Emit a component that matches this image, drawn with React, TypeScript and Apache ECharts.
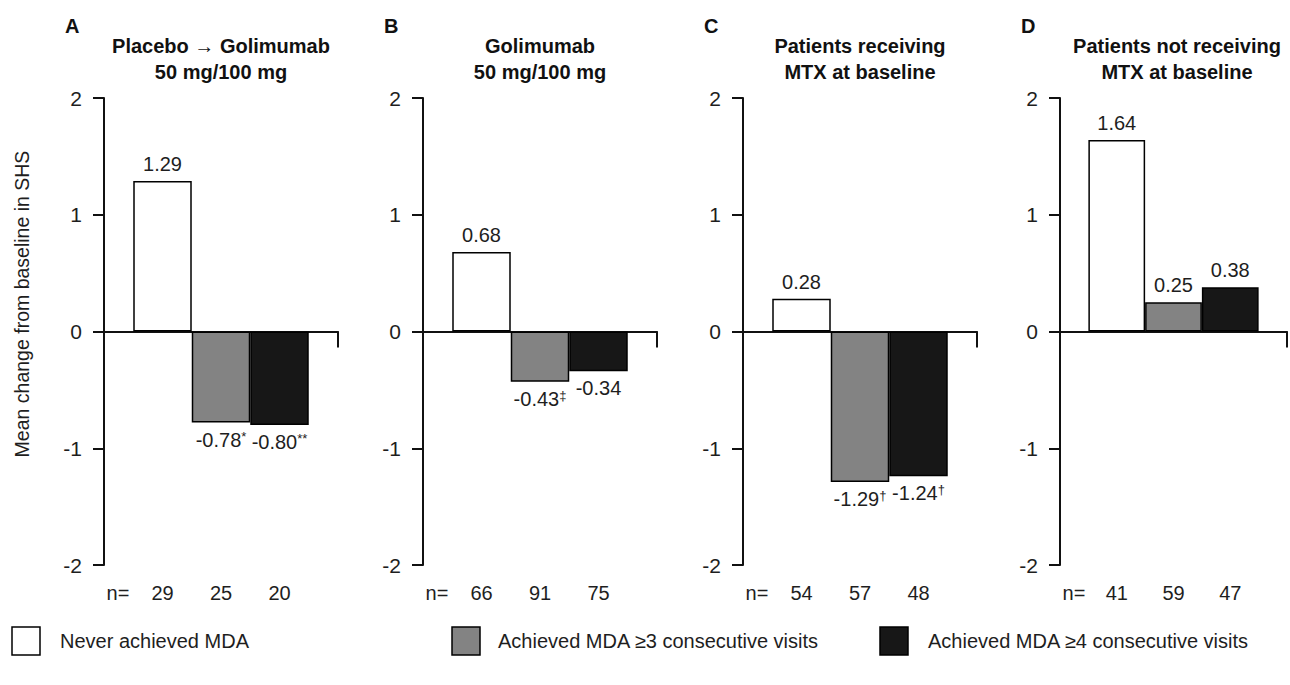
import React, { useEffect, useRef } from 'react';
import * as echarts from 'echarts';

// ---------- data ----------
const panelLetters = ['A', 'B', 'C', 'D'];
const panelTitles = [
  ['Placebo \u2192 Golimumab', '50 mg/100 mg'],
  ['Golimumab', '50 mg/100 mg'],
  ['Patients receiving', 'MTX at baseline'],
  ['Patients not receiving', 'MTX at baseline'],
];
const groupNames = [
  'Never achieved MDA',
  'Achieved MDA \u22653 consecutive visits',
  'Achieved MDA \u22654 consecutive visits',
];
const valuesA = [1.29, -0.78, -0.8];
const valuesB = [0.68, -0.43, -0.34];
const valuesC = [0.28, -1.29, -1.24];
const valuesD = [1.64, 0.25, 0.38];
const marksA = ['', '*', '**'];
const marksB = ['', '\u2021', ''];
const marksC = ['', '\u2020', '\u2020'];
const marksD = ['', '', ''];
const nA = [29, 25, 20];
const nB = [66, 91, 75];
const nC = [54, 57, 48];
const nD = [41, 59, 47];
const nPrefix = 'n=';
const yAxisTitle = 'Mean change from baseline in SHS';
const yMin = -2;
const yMax = 2;
const yStep = 1;

const panelValues = [valuesA, valuesB, valuesC, valuesD];
const panelMarks = [marksA, marksB, marksC, marksD];
const panelN = [nA, nB, nC, nD];

// ---------- style / layout ----------
const FONT = '"Liberation Sans", Arial, Helvetica, sans-serif';
const TEXT = '#1e1e1e';
const fills = ['#ffffff', '#838383', '#171717'];
const panelLeft = [104, 423, 743, 1060];
const gridTop = 98;
const gridHeight = 467;
const gridWidth = 234;
const legendBoxX = [12, 452, 880];
const legendTextX = [60, 498, 928];
const legendY = 641;

export default function App() {
  const ref = useRef<HTMLDivElement>(null);

  useEffect(() => {
    document.body.style.margin = '0';
    if (!ref.current) return;
    const chart = echarts.init(ref.current, null, { renderer: 'svg' });

    const grids: any[] = [];
    const xAxes: any[] = [];
    const yAxes: any[] = [];
    const series: any[] = [];
    const graphics: any[] = [];

    panelLeft.forEach((left, p) => {
      grids.push({ left, top: gridTop, width: gridWidth, height: gridHeight, containLabel: false });
      // main x axis on the zero line
      xAxes.push({
        gridIndex: p,
        type: 'value',
        min: 0,
        max: 4,
        interval: 4,
        axisLine: { show: true, onZero: true, lineStyle: { color: '#111', width: 2 } },
        axisTick: { show: true, length: 16, lineStyle: { color: '#111', width: 2 } },
        axisLabel: { show: false },
        splitLine: { show: false },
      });
      // n= labels axis
      const ns = panelN[p];
      xAxes.push({
        gridIndex: p,
        type: 'value',
        position: 'bottom',
        min: 0,
        max: 4,
        interval: 1,
        axisLine: { show: false, onZero: false },
        axisTick: { show: false },
        splitLine: { show: false },
        axisLabel: {
          show: true,
          margin: 18,
          fontSize: 20,
          fontFamily: FONT,
          color: TEXT,
          showMinLabel: true,
          showMaxLabel: true,
          formatter: (v: number) => {
            if (v === 0) return '{n|' + nPrefix + '}';
            if (v >= 1 && v <= 3) return String(ns[v - 1]);
            return '';
          },
          rich: { n: { fontSize: 20, fontFamily: FONT, color: TEXT, padding: [0, 0, 0, 28] } },
        },
      });
      yAxes.push({
        gridIndex: p,
        type: 'value',
        min: yMin,
        max: yMax,
        interval: yStep,
        axisLine: { show: true, onZero: false, lineStyle: { color: '#111', width: 2 } },
        axisTick: { show: true, length: 11, lineStyle: { color: '#111', width: 2 } },
        axisLabel: { fontSize: 21, fontFamily: FONT, color: TEXT, margin: 22 },
        splitLine: { show: false },
      });

      const vals = panelValues[p];
      const marks = panelMarks[p];
      groupNames.forEach((name, g) => {
        const v = vals[g];
        const txt = v.toFixed(2) + (marks[g] ? '{s|' + marks[g] + '}' : '');
        series.push({
          type: 'bar',
          name,
          xAxisIndex: p * 2,
          yAxisIndex: p,
          stack: 'panel' + p,
          barWidth: '100%',
          itemStyle: { color: fills[g], borderColor: '#000', borderWidth: 1.5 },
          label: {
            show: true,
            position: v >= 0 ? 'top' : 'bottom',
            distance: 7,
            fontSize: 20,
            fontFamily: FONT,
            color: TEXT,
            formatter: () => txt,
            rich: { s: { fontSize: 13, fontFamily: FONT, color: TEXT, verticalAlign: 'top' } },
          },
          data: [[g + 1, v]],
        });
      });

      const center = left + gridWidth / 2;
      graphics.push({
        type: 'text',
        x: left - 39,
        y: 26,
        style: {
          text: panelLetters[p],
          fontSize: 20,
          fontWeight: 'bold',
          fontFamily: FONT,
          fill: '#111',
          align: 'left',
          verticalAlign: 'middle',
          textAlign: 'left',
          textVerticalAlign: 'middle',
        },
      });
      panelTitles[p].forEach((line, i) => {
        graphics.push({
          type: 'text',
          x: center,
          y: 46 + i * 26,
          style: {
            text: line,
            fontSize: 20,
            fontWeight: 'bold',
            fontFamily: FONT,
            fill: '#111',
            align: 'center',
            verticalAlign: 'middle',
            textAlign: 'center',
            textVerticalAlign: 'middle',
          },
        });
      });
    });

    // y axis title
    graphics.push({
      type: 'text',
      x: 22,
      y: 304,
      rotation: Math.PI / 2,
      style: {
        text: yAxisTitle,
        fontSize: 19.5,
        fontFamily: FONT,
        fill: TEXT,
        align: 'center',
        verticalAlign: 'middle',
        textAlign: 'center',
        textVerticalAlign: 'middle',
      },
    });

    // legend
    groupNames.forEach((name, g) => {
      graphics.push({
        type: 'rect',
        shape: { x: legendBoxX[g], y: legendY - 14, width: 28, height: 28 },
        style: { fill: fills[g], stroke: '#000', lineWidth: 1.5 },
      });
      graphics.push({
        type: 'text',
        x: legendTextX[g],
        y: legendY,
        style: {
          text: name,
          fontSize: 20,
          fontFamily: FONT,
          fill: TEXT,
          align: 'left',
          verticalAlign: 'middle',
          textAlign: 'left',
          textVerticalAlign: 'middle',
        },
      });
    });

    chart.setOption({
      animation: false,
      backgroundColor: '#ffffff',
      grid: grids,
      xAxis: xAxes,
      yAxis: yAxes,
      series,
      graphic: graphics,
    });

    return () => chart.dispose();
  }, []);

  return <div ref={ref} style={{ width: 1290, height: 685 }} />;
}
